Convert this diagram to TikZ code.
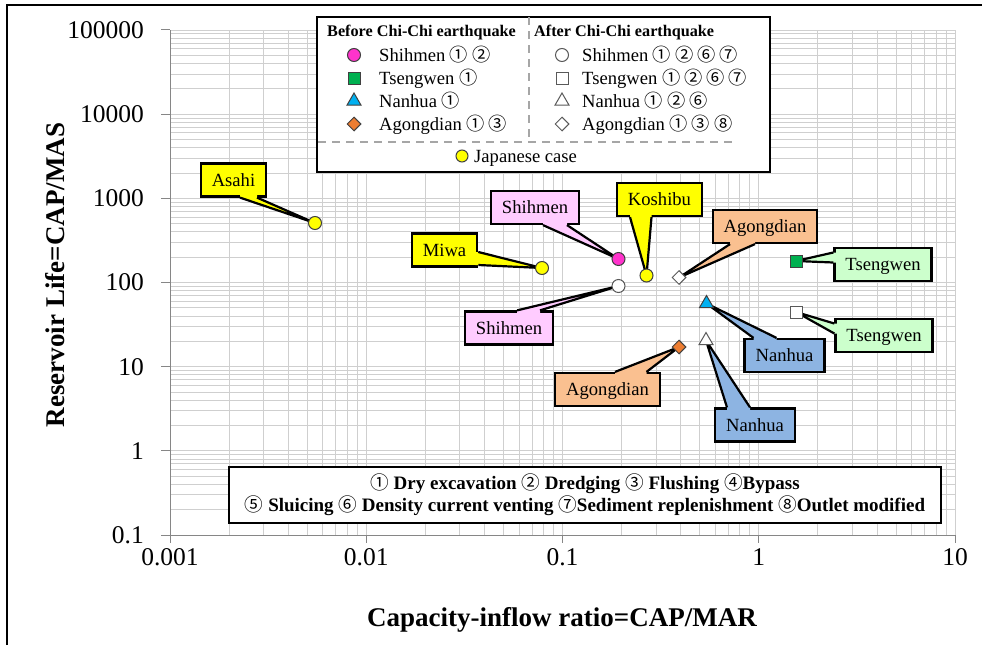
\documentclass[tikz,border=0pt]{standalone}
\usepackage{fontspec}
\setmainfont{Liberation Serif}
\newfontfamily\circfont[Scale=0.98,BoldFont={Noto Sans CJK JP}]{Noto Sans CJK JP}
\usepackage{tikz}
\usetikzlibrary{calc,shapes.geometric}
\definecolor{GridGray}{HTML}{CFCFCF}
\definecolor{AxisGray}{HTML}{868686}
\definecolor{DashGray}{HTML}{A6A6A6}
\definecolor{MarkEdge}{HTML}{404040}
\definecolor{AfterEdge}{HTML}{595959}
\definecolor{JpYellow}{HTML}{FFFF00}
\definecolor{ShMag}{HTML}{FF33CC}
\definecolor{ShPink}{HTML}{FFCCFF}
\definecolor{TsGreen}{HTML}{00B050}
\definecolor{TsLight}{HTML}{CCFFCC}
\definecolor{NhBlue}{HTML}{00B0F0}
\definecolor{NhBox}{HTML}{8DB4E2}
\definecolor{AgOrange}{HTML}{ED7D31}
\definecolor{AgPeach}{HTML}{FAC090}
\newcommand{\circno}[1]{{\circfont #1}}
% pointer of a callout: colour, box anchor, base offsets a and b, inward shift, tip
\newcommand{\callptr}[6]{%
  \fill[#1] ($(#2)+#3+#5$) -- ($(#2)+#3$) -- (#6) -- ($(#2)+#4$) -- ($(#2)+#4+#5$) -- cycle;
  \draw[ptr] ($(#2)+#3$) -- (#6) -- ($(#2)+#4$);}

\begin{document}
\begin{tikzpicture}[x=1pt,y=-1pt,
gridl/.style={draw=GridGray,line width=0.8pt},
axisl/.style={draw=AxisGray,line width=1pt},
ticklbl/.style={inner sep=0pt,font=\fontsize{25.5}{26}\selectfont},
titl/.style={inner sep=0pt,font=\bfseries\fontsize{27}{28}\selectfont},
legframe/.style={draw=black,line width=1.2pt,fill=white,inner sep=0pt},
legtxt/.style={anchor=west,inner sep=0pt,text height=12.5pt,text depth=0pt,font=\fontsize{18.6}{20}\selectfont},
leghead/.style={anchor=west,inner sep=0pt,font=\bfseries\fontsize{16.2}{18}\selectfont},
sepdash/.style={draw=DashGray,line width=1.5pt,dash pattern=on 8pt off 6pt},
callbox/.style={draw=black,line width=2.2pt,minimum height=33pt,inner xsep=11pt,inner ysep=0pt,text height=12.5pt,text depth=0pt,font=\fontsize{18.6}{20}\selectfont},
ptr/.style={draw=black,line width=2.2pt,line join=round},
mk/.style={draw=MarkEdge,line width=1pt,inner sep=0pt},
jp/.style={mk,circle,fill=JpYellow,minimum size=13pt},
shb/.style={mk,circle,fill=ShMag,minimum size=13pt},
sha/.style={mk,circle,fill=white,draw=AfterEdge,minimum size=13pt},
tsb/.style={mk,rectangle,fill=TsGreen,minimum size=12pt},
tsa/.style={mk,rectangle,fill=white,draw=AfterEdge,minimum size=12pt},
nhb/.style={mk,regular polygon,regular polygon sides=3,fill=NhBlue,minimum size=16pt},
nha/.style={mk,regular polygon,regular polygon sides=3,fill=white,draw=AfterEdge,minimum size=16pt},
agb/.style={mk,diamond,fill=AgOrange,minimum size=14pt},
aga/.style={mk,diamond,fill=white,draw=AfterEdge,minimum size=14pt}
]
\useasboundingbox (0,0) rectangle (982,645);
\draw[line width=1.5pt] (7,645) -- (7,5) -- (982,5);

% log grid
\foreach \d in {0,...,3}
  \foreach \k in {1,...,9}
    \draw[gridl] ({170+196.25*(\d+log10(\k))},30) -- ++(0,505);
\draw[gridl] (955,30) -- (955,535);
\foreach \d in {0,...,5}
  \foreach \k in {1,...,9}
    \draw[gridl] (170,{535-84.17*(\d+log10(\k))}) -- ++(785,0);
\draw[gridl] (170,30) -- (955,30);

% axes, ticks and tick labels
\draw[axisl] (170,30) -- (170,535) -- (955,535);
\foreach \v [count=\i from 0] in {0.1,1,10,100,1000,10000,100000} {
  \draw[axisl] (161,{535-84.17*\i}) -- (170,{535-84.17*\i});
  \node[ticklbl,anchor=east] (ylab\i) at (144,{535-84.17*\i}) {\v};
}
\foreach \v [count=\i from 0] in {0.001,0.01,0.1,1,10} {
  \draw[axisl] ({170+196.25*\i},535) -- ({170+196.25*\i},543);
  \node[ticklbl] (xlab\i) at ({170+196.25*\i},557) {\v};
}
\node[titl,rotate=90] (ytitle) at (55,275) {Reservoir Life=CAP/MAS};
\node[titl] (xtitle) at (562,620) {Capacity-inflow ratio=CAP/MAR};

% legend of the cases
\node[legframe,minimum width=453pt,minimum height=155pt] (legbox) at (543.5,94.5) {};
\draw[sepdash] (529,17) -- (529,137);
\draw[sepdash] (318,142) -- (733,142);
\node[leghead] (headB) at (327,33) {Before Chi-Chi earthquake};
\node[leghead] (headA) at (534,33) {After Chi-Chi earthquake};
\node[shb] (lgShB) at (354,55) {};
\node[legtxt] (lgShBt) at (379,55) {Shihmen \circno{① ②}};
\node[tsb] (lgTsB) at (354,78) {};
\node[legtxt] (lgTsBt) at (379,78) {Tsengwen \circno{①}};
\node[nhb] (lgNhB) at (354,101) {};
\node[legtxt] (lgNhBt) at (379,101) {Nanhua \circno{①}};
\node[agb] (lgAgB) at (354,124) {};
\node[legtxt] (lgAgBt) at (379,124) {Agongdian \circno{① ③}};
\node[sha] (lgShA) at (562,55) {};
\node[legtxt] (lgShAt) at (582,55) {Shihmen \circno{① ② ⑥ ⑦}};
\node[tsa] (lgTsA) at (562,78) {};
\node[legtxt] (lgTsAt) at (582,78) {Tsengwen \circno{① ② ⑥ ⑦}};
\node[nha] (lgNhA) at (562,101) {};
\node[legtxt] (lgNhAt) at (582,101) {Nanhua \circno{① ② ⑥}};
\node[aga] (lgAgA) at (562,124) {};
\node[legtxt] (lgAgAt) at (582,124) {Agongdian \circno{① ③ ⑧}};
\node[jp,minimum size=12pt] (lgJp) at (462,156) {};
\node[legtxt] (lgJpt) at (474,156) {Japanese case};

% legend of the measures
\node[legframe,minimum width=712pt,minimum height=56pt,align=center,
  font=\bfseries\fontsize{19}{22}\selectfont] (measures) at (585,495)
  {\circno{①} Dry excavation \circno{②} Dredging \circno{③} Flushing \circno{④}Bypass\\
   \circno{⑤} Sluicing \circno{⑥} Density current venting \circno{⑦}Sediment replenishment \circno{⑧}Outlet modified};

% reservoirs
\foreach \n/\x/\y in {Asahi/315/223,Miwa/542/268,Koshibu/646.5/275.5,ShB/618.5/259,ShA/618.5/286,
  AgA/679/277.5,AgB/679/347,TsB/796/261,TsA/796/312,NhB/706.5/303.5,NhA/706/340.5}
  \coordinate (p\n) at (\x,\y);

% callouts
\node[callbox,fill=JpYellow] (cAsahi) at (233.5,180) {Asahi};
\node[callbox,fill=JpYellow] (cMiwa) at (444.5,250) {Miwa};
\node[callbox,fill=ShPink] (cShB) at (535,207.5) {Shihmen};
\node[callbox,fill=JpYellow] (cKoshibu) at (659.5,199.5) {Koshibu};
\node[callbox,fill=AgPeach] (cAgA) at (765,226.5) {Agongdian};
\node[callbox,fill=TsLight] (cTsB) at (883,264.5) {Tsengwen};
\node[callbox,fill=TsLight] (cTsA) at (884,335.5) {Tsengwen};
\node[callbox,fill=NhBox] (cNhB) at (784.5,355.5) {Nanhua};
\node[callbox,fill=NhBox] (cNhA) at (755,425) {Nanhua};
\node[callbox,fill=AgPeach] (cAgB) at (607.5,389.5) {Agongdian};
\node[callbox,fill=ShPink] (cShA) at (509,328) {Shihmen};
\callptr{JpYellow}{cAsahi.south}{(6.5,0)}{(23.5,0)}{(0,-3)}{pAsahi}
\callptr{JpYellow}{cMiwa.east}{(0,2)}{(0,15)}{(-3,0)}{pMiwa}
\callptr{ShPink}{cShB.south}{(8,0)}{(32,0)}{(0,-3)}{pShB}
\callptr{JpYellow}{cKoshibu.south}{(-29.5,0)}{(-8,0)}{(0,-3)}{pKoshibu}
\callptr{AgPeach}{cAgA.south}{(-35,0)}{(-10,0)}{(0,-3)}{pAgA}
\callptr{TsLight}{cTsB.west}{(0,-12)}{(0,-2)}{(3,0)}{pTsB}
\callptr{TsLight}{cTsA.west}{(0,-12)}{(0,-2)}{(3,0)}{pTsA}
\callptr{NhBox}{cNhB.north}{(-31,0)}{(-8,0)}{(0,3)}{pNhB}
\callptr{NhBox}{cNhA.north}{(-28,0)}{(-5,0)}{(0,3)}{pNhA}
\callptr{AgPeach}{cAgB.north}{(7.5,0)}{(39,0)}{(0,3)}{pAgB}
\callptr{ShPink}{cShA.north}{(8,0)}{(31,0)}{(0,3)}{pShA}

% markers
\node[jp] (mAsahi) at (pAsahi) {};
\node[jp] (mMiwa) at (pMiwa) {};
\node[jp] (mKoshibu) at (pKoshibu) {};
\node[shb] (mShB) at (pShB) {};
\node[sha] (mShA) at (pShA) {};
\node[aga] (mAgA) at (pAgA) {};
\node[agb] (mAgB) at (pAgB) {};
\node[tsb] (mTsB) at (pTsB) {};
\node[tsa] (mTsA) at (pTsA) {};
\node[nhb] (mNhB) at (pNhB) {};
\node[nha] (mNhA) at (pNhA) {};
\end{tikzpicture}
\end{document}
